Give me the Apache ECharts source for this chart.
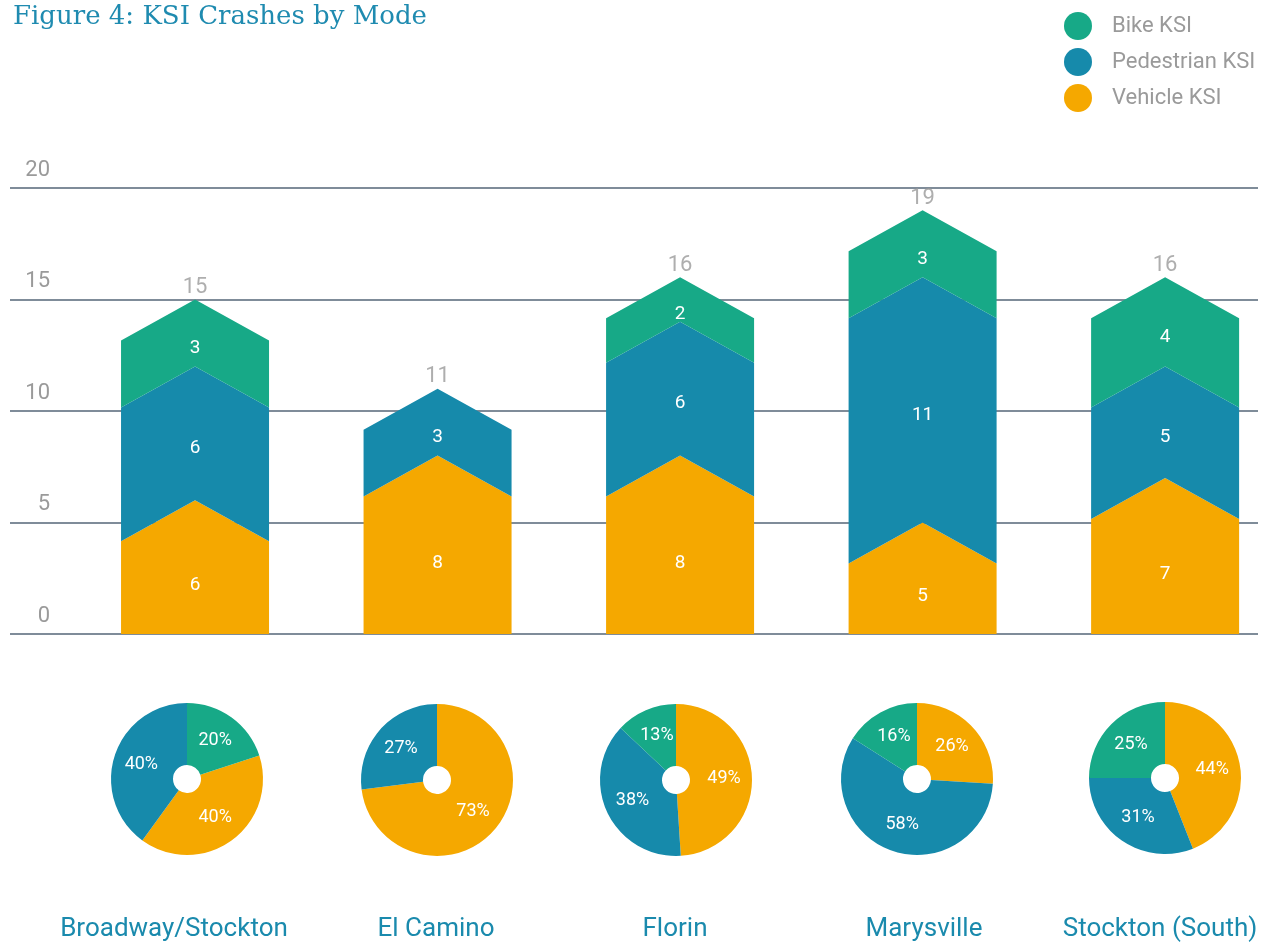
<!DOCTYPE html>
<html>
<head>
<meta charset="utf-8">
<title>KSI Crashes by Mode</title>
<script src="https://cdn.jsdelivr.net/npm/echarts@6/dist/echarts.min.js"></script>
<style>
  html, body { margin: 0; padding: 0; background: #fff; }
  #main { width: 1270px; height: 944px; }
</style>
</head>
<body>
<div id="main"></div>
<script>
  // 数据
  var corridors = ['Broadway/Stockton', 'El Camino', 'Florin', 'Marysville', 'Stockton (South)'];
  var modes = ['Bike KSI', 'Pedestrian KSI', 'Vehicle KSI'];
  var bikeKsi = [3, 0, 2, 3, 4];
  var pedKsi = [6, 3, 6, 11, 5];
  var vehKsi = [6, 8, 8, 5, 7];
  // pie shares as printed on the figure (%)
  var bikePct = [20, 0, 13, 16, 25];
  var pedPct = [40, 27, 38, 58, 31];
  var vehPct = [40, 73, 49, 26, 44];
  var yTicks = [0, 5, 10, 15, 20];

  var colors = { bike: '#17a987', ped: '#168aab', veh: '#f5a800' };
  var chevron = 41;     // arrow head height (px)
  var barW = 148;       // bar width (px)
  var pieCenters = [[187, 779], [437, 780], [676, 780], [917, 779], [1165, 778]];
  var nameX = [174, 436, 675, 924, 1160];
  var pieStart = [18, 90, 90, 90, 90];

  var myChart = echarts.init(document.getElementById('main'));

  // 堆叠区间
  var stackData = { veh: [], ped: [], bike: [] };
  var totals = [];
  corridors.forEach(function (c, i) {
    var a = vehKsi[i], b = a + pedKsi[i], t = b + bikeKsi[i];
    stackData.veh.push([i, 0, a, vehKsi[i]]);
    stackData.ped.push([i, a, b, pedKsi[i]]);
    stackData.bike.push([i, b, t, bikeKsi[i]]);
    totals.push([i, t]);
  });

  function renderArrow(params, api) {
    var x = api.value(0), s = api.value(1), e = api.value(2), v = api.value(3);
    if (!v) return;
    var top = api.coord([x, e]);
    var bot = api.coord([x, s]);
    var cx = top[0], l = cx - barW / 2, r = cx + barW / 2;
    var pts;
    if (s === 0) {
      pts = [[l, bot[1]], [r, bot[1]], [r, top[1] + chevron], [cx, top[1]], [l, top[1] + chevron]];
    } else {
      pts = [[l, bot[1] + chevron], [cx, bot[1]], [r, bot[1] + chevron],
             [r, top[1] + chevron], [cx, top[1]], [l, top[1] + chevron]];
    }
    var mid = api.coord([x, (s + e) / 2]);
    return {
      type: 'group',
      children: [
        { type: 'polygon', shape: { points: pts }, style: { fill: api.visual('color') } },
        {
          type: 'text', x: cx, y: mid[1] + (s === 0 ? 18 : 15),
          style: {
            text: String(v), fill: '#fff', fontSize: 19, fontFamily: 'Roboto',
            align: 'center', verticalAlign: 'middle'
          }
        }
      ]
    };
  }

  var series = [
    { name: 'Vehicle KSI', type: 'custom', renderItem: renderArrow, data: stackData.veh,
      itemStyle: { color: colors.veh }, encode: { x: 0, y: [1, 2] } },
    { name: 'Pedestrian KSI', type: 'custom', renderItem: renderArrow, data: stackData.ped,
      itemStyle: { color: colors.ped }, encode: { x: 0, y: [1, 2] } },
    { name: 'Bike KSI', type: 'custom', renderItem: renderArrow, data: stackData.bike,
      itemStyle: { color: colors.bike }, encode: { x: 0, y: [1, 2] } },
    { name: 'Total', type: 'scatter', data: totals, symbolSize: 0, silent: true,
      label: { show: true, position: 'top', distance: 1, color: '#9a9a9a', fontSize: 22,
        fontFamily: 'Roboto', formatter: function (p) { return p.value[1]; } } }
  ];

  corridors.forEach(function (c, i) {
    var items = [
      { name: 'Vehicle KSI', value: vehPct[i], itemStyle: { color: colors.veh } },
      { name: 'Pedestrian KSI', value: pedPct[i], itemStyle: { color: colors.ped } },
      { name: 'Bike KSI', value: bikePct[i], itemStyle: { color: colors.bike } }
    ].filter(function (d) { return d.value > 0; });
    series.push({
      name: c, type: 'pie', center: pieCenters[i], radius: [14, 76],
      startAngle: pieStart[i], clockwise: true, silent: true,
      label: { show: true, position: 'inside', formatter: '{c}%', color: '#fff',
        fontSize: 18, fontFamily: 'Roboto' },
      labelLine: { show: false },
      data: items
    });
  });

  var option = {
    animation: false,
    title: {
      text: 'Figure 4: KSI Crashes by Mode', left: 8, top: -1,
      textStyle: { fontFamily: 'DejaVu Serif', fontSize: 26, fontWeight: 'normal', color: '#1f8bb0' }
    },
    legend: {
      data: ['Bike KSI', 'Pedestrian KSI', 'Vehicle KSI'],
      orient: 'vertical', left: 1059, top: 7,
      icon: 'circle', itemWidth: 28, itemHeight: 28, itemGap: 8,
      textStyle: { color: '#9a9a9a', fontSize: 22, fontFamily: 'Roboto', padding: [0, 0, 0, 15] }
    },
    grid: { left: 10, right: 12, top: 188, bottom: 310 },
    xAxis: {
      type: 'value', min: -0.763, max: 4.383, show: false
    },
    yAxis: {
      type: 'value', min: yTicks[0], max: yTicks[yTicks.length - 1], interval: 5,
      axisLine: { show: false }, axisTick: { show: false },
      axisLabel: { inside: true, margin: 40, align: 'right', verticalAlign: 'bottom',
        padding: [0, 0, 7, 0], color: '#9a9a9a', fontSize: 22, fontFamily: 'Roboto' },
      splitLine: { lineStyle: { color: '#7f8c99', width: 2 } }
    },
    graphic: corridors.map(function (c, i) {
      return {
        type: 'text', x: nameX[i], y: 929,
        style: { text: c, fill: '#1a8aad', fontSize: 26, fontFamily: 'Roboto',
          align: 'center', verticalAlign: 'middle' }
      };
    }),
    series: series
  };

  myChart.setOption(option);
</script>
</body>
</html>
